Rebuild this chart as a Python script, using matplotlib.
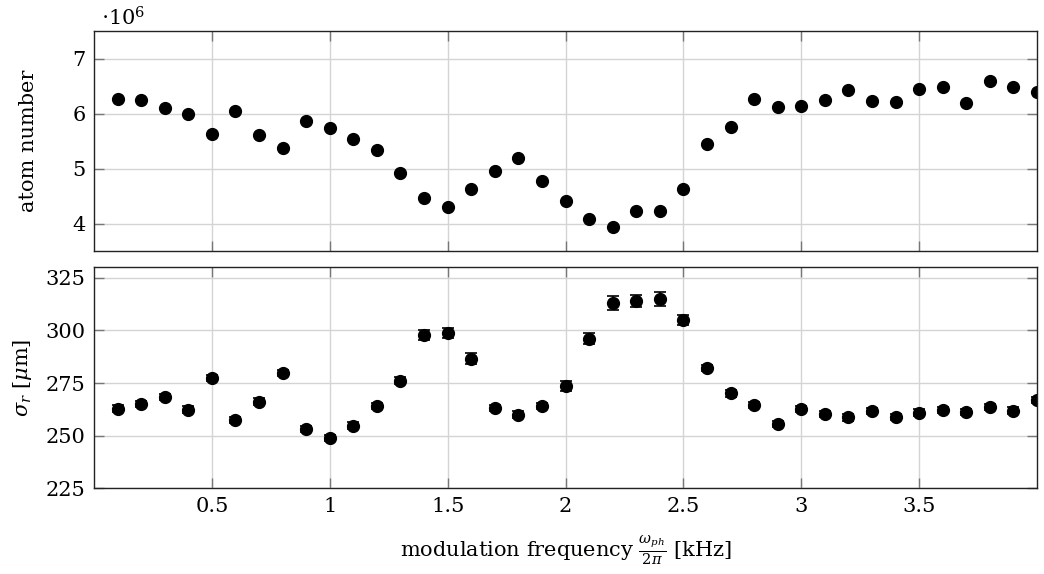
import matplotlib
matplotlib.use("Agg")
import matplotlib.pyplot as plt
import numpy as np

# Datos
freq = [0.1, 0.2, 0.3, 0.4, 0.5, 0.6, 0.7, 0.8, 0.9, 1.0,
        1.1, 1.2, 1.3, 1.4, 1.5, 1.6, 1.7, 1.8, 1.9, 2.0,
        2.1, 2.2, 2.3, 2.4, 2.5, 2.6, 2.7, 2.8, 2.9, 3.0,
        3.1, 3.2, 3.3, 3.4, 3.5, 3.6, 3.7, 3.8, 3.9, 4.0]

atoms = [6.27, 6.24, 6.10, 5.99, 5.63, 6.05, 5.61, 5.37, 5.87, 5.74,
         5.54, 5.33, 4.91, 4.47, 4.30, 4.63, 4.95, 5.19, 4.77, 4.41,
         4.09, 3.94, 4.23, 4.22, 4.62, 5.44, 5.75, 6.27, 6.12, 6.14,
         6.24, 6.43, 6.22, 6.21, 6.44, 6.49, 6.19, 6.59, 6.49, 6.39]

sigma = [262.9, 265.1, 268.4, 262.4, 277.3, 257.6, 266.2, 279.8, 253.3, 248.9,
         254.8, 264.1, 276.2, 297.9, 298.8, 286.6, 263.3, 260.0, 264.0, 273.6,
         296.0, 313.0, 314.0, 315.0, 305.0, 282.0, 270.1, 264.6, 255.4, 262.7,
         260.2, 258.7, 261.6, 259.0, 261.0, 262.2, 261.1, 263.5, 261.9, 266.8]

sigma_err = [1.5, 1.5, 1.5, 1.5, 1.5, 1.5, 1.5, 1.5, 1.5, 1.5,
             1.5, 1.5, 1.5, 2.5, 2.5, 2.5, 1.5, 1.5, 1.5, 2.5,
             2.6, 3.3, 2.8, 3.3, 2.5, 1.5, 1.5, 1.5, 1.5, 1.5,
             1.5, 1.5, 1.5, 1.5, 1.5, 1.5, 1.5, 1.5, 1.5, 1.5]

xticks = [0.5, 1, 1.5, 2, 2.5, 3, 3.5]
xticklabels = ["0.5", "1", "1.5", "2", "2.5", "3", "3.5"]
yticks_top = [4, 5, 6, 7]
yticks_bot = [225, 250, 275, 300, 325]

plt.rcParams['font.family'] = ['DejaVu Serif']
plt.rcParams['mathtext.fontset'] = 'dejavuserif'
plt.rcParams['font.size'] = 15

fig = plt.figure(figsize=(10.44, 5.74), dpi=100)
W, H = 1044, 574
ax1 = fig.add_axes([94 / W, 1 - 251 / H, 943 / W, 220 / H])
ax2 = fig.add_axes([94 / W, 1 - 488.3 / H, 943 / W, 221 / H])

for ax in (ax1, ax2):
    ax.set_xlim(0, 4.0)
    ax.set_xticks(xticks)
    ax.grid(True, color='#d4d4d4', linewidth=1.0)
    ax.set_axisbelow(True)
    ax.tick_params(direction='in', length=7, width=1.0, color='#777777',
                   top=True, right=True, labelsize=15, pad=6)
    for s in ax.spines.values():
        s.set_linewidth(1.0)
        s.set_color('#222222')

ax1.errorbar(freq, atoms, fmt='o', color='black', markersize=8.5)
ax1.set_ylim(3.5, 7.5)
ax1.set_yticks(yticks_top)
ax1.tick_params(labelbottom=False)
ax1.set_ylabel('atom number', labelpad=25)
fig.text(101 / W, 1 - 25 / H, r'$\cdot 10^6$', fontsize=15, va='baseline')

ax2.errorbar(freq, sigma, yerr=sigma_err, fmt='o', color='black',
             markersize=8.5, capsize=4, elinewidth=1.2, capthick=1.2)
ax2.set_ylim(225, 330)
ax2.set_yticks(yticks_bot)
ax2.set_xticklabels(xticklabels)
ax2.set_ylabel(r'$\sigma_r$ [$\mu$m]', labelpad=8)
ax2.set_xlabel(r'modulation frequency $\frac{\omega_{ph}}{2\pi}$ [kHz]', labelpad=13)

fig.savefig('out.png', dpi=100)
